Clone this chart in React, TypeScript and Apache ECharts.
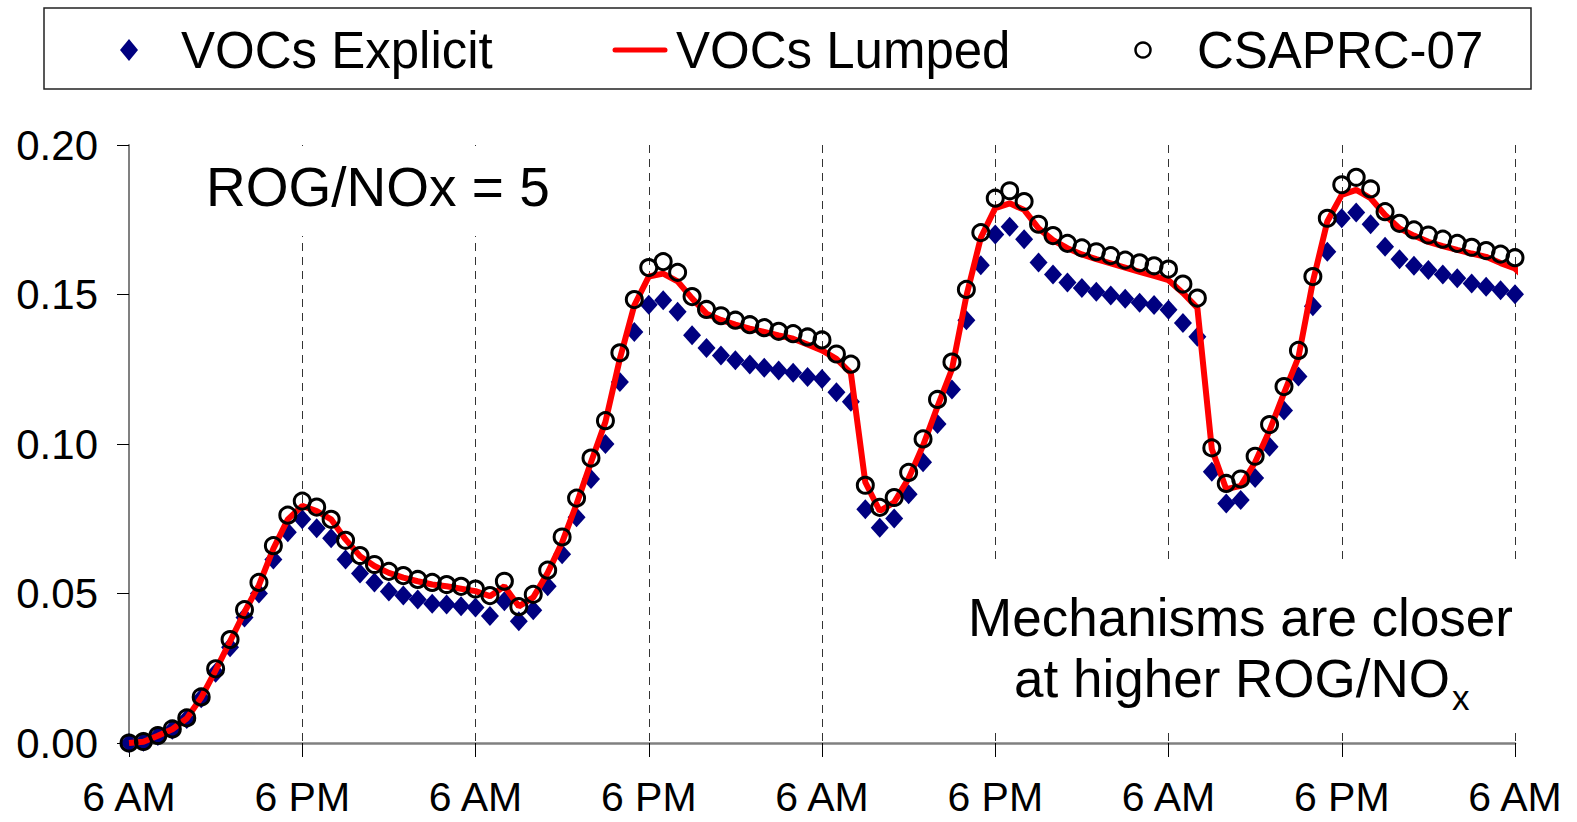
import React, { useEffect, useRef } from 'react';
import * as echarts from 'echarts';

// Hours after the 6 AM start (hourly output)
const explicitValues = [
  0.0, 0.0004, 0.0023, 0.0044, 0.008, 0.015, 0.0235, 0.032, 0.042, 0.05, 0.0614, 0.0705,
  0.0748, 0.0718, 0.0685, 0.0614, 0.0567, 0.0537, 0.0507, 0.0493, 0.048, 0.0466, 0.0463, 0.0457,
  0.0453, 0.0425, 0.0474, 0.0407, 0.0444, 0.0524, 0.0631, 0.0755, 0.0883, 0.1, 0.1207, 0.1375,
  0.1466, 0.1481, 0.1442, 0.1364, 0.1321, 0.1296, 0.128, 0.1266, 0.1255, 0.1246, 0.1238, 0.1224,
  0.1217, 0.1173, 0.1141, 0.0782, 0.072, 0.0751, 0.0832, 0.0939, 0.1067, 0.1182, 0.1414, 0.1598,
  0.1701, 0.1727, 0.1685, 0.1607, 0.1567, 0.154, 0.1522, 0.1509, 0.1497, 0.1486, 0.1472, 0.1465,
  0.1449, 0.1405, 0.1359, 0.0907, 0.0801, 0.0813, 0.0886, 0.0991, 0.1112, 0.1226, 0.1461, 0.1643,
  0.1755, 0.1774, 0.1735, 0.166, 0.1618, 0.1596, 0.1582, 0.1567, 0.1554, 0.1537, 0.1526, 0.1514,
  0.1501,
];

const lumpedValues = [
  0.0, 0.0004, 0.0024, 0.0046, 0.0082, 0.0152, 0.0243, 0.034, 0.0438, 0.0528, 0.065, 0.0748,
  0.0793, 0.0776, 0.0748, 0.0681, 0.0625, 0.0592, 0.0569, 0.0553, 0.0541, 0.053, 0.0524, 0.0516,
  0.0508, 0.0491, 0.0524, 0.0457, 0.0487, 0.0569, 0.0671, 0.0799, 0.0939, 0.1074, 0.1285, 0.1464,
  0.156, 0.157, 0.1544, 0.1487, 0.1436, 0.1415, 0.1399, 0.1386, 0.1375, 0.1363, 0.1352, 0.1333,
  0.1313, 0.1285, 0.1237, 0.0872, 0.0776, 0.0805, 0.0885, 0.0995, 0.1125, 0.125, 0.1495, 0.169,
  0.1789, 0.1805, 0.1783, 0.1721, 0.1682, 0.1655, 0.1634, 0.1618, 0.1604, 0.159, 0.1576, 0.1562,
  0.1548, 0.1505, 0.1455, 0.0983, 0.0849, 0.086, 0.0939, 0.1045, 0.117, 0.129, 0.1543, 0.1744,
  0.1833, 0.185, 0.1822, 0.1766, 0.1721, 0.1697, 0.1676, 0.1662, 0.1649, 0.1637, 0.1626, 0.1605,
  0.1587, 0.154,
];

const csaprcValues = [
  0.0, 0.0005, 0.0025, 0.0047, 0.0084, 0.0154, 0.0248, 0.0346, 0.0446, 0.0537, 0.066, 0.0762,
  0.0809, 0.0789, 0.0748, 0.0678, 0.0627, 0.0597, 0.0574, 0.056, 0.0547, 0.0537, 0.053, 0.0524,
  0.0515, 0.0493, 0.0541, 0.0456, 0.0497, 0.0578, 0.0689, 0.0819, 0.0953, 0.1078, 0.1305, 0.1483,
  0.159, 0.161, 0.1574, 0.1493, 0.145, 0.1429, 0.1414, 0.1399, 0.1389, 0.1377, 0.1369, 0.1358,
  0.1348, 0.1301, 0.1267, 0.0862, 0.0788, 0.0821, 0.0905, 0.1017, 0.1149, 0.1274, 0.1517, 0.1707,
  0.1822, 0.1847, 0.1811, 0.1735, 0.1697, 0.1671, 0.1656, 0.1643, 0.163, 0.1615, 0.1606, 0.1596,
  0.1585, 0.1535, 0.1488, 0.0987, 0.0868, 0.0883, 0.0959, 0.1065, 0.1192, 0.1313, 0.156, 0.1755,
  0.1867, 0.1892, 0.1853, 0.1777, 0.1738, 0.1716, 0.1699, 0.1685, 0.1671, 0.1658, 0.1647, 0.1635,
  0.1623,
];

const seriesNames = ['VOCs Explicit', 'VOCs Lumped', 'CSAPRC-07'];
const xTickLabels = ['6 AM', '6 PM'];
const yTicks = { min: 0, max: 0.2, step: 0.05 };
const annotationTop = 'ROG/NOx = 5';
const annotationBottom1 = 'Mechanisms are closer';
const annotationBottom2 = 'at higher ROG/NO';
const annotationSub = 'x';

const FONT = '"Liberation Sans", Arial, sans-serif';

const toPairs = (vals: number[]) => vals.map((v, h) => [h, v]);

export default function App() {
  const ref = useRef<HTMLDivElement>(null);

  useEffect(() => {
    if (!ref.current) return;
    const chart = echarts.init(ref.current, null, { renderer: 'svg' });

    const textEl = (text: string, x: number, y: number, size: number, align = 'left') => ({
      type: 'text',
      z: 110,
      style: {
        text,
        x,
        y,
        fontSize: size,
        fontFamily: FONT,
        fill: '#000',
        textAlign: align,
        textVerticalAlign: 'middle',
        verticalAlign: 'middle',
      },
    });

    const option: any = {
      animation: false,
      backgroundColor: '#ffffff',
      grid: { left: 129, right: 62, top: 145, bottom: 79, containLabel: false },
      xAxis: {
        type: 'value',
        min: 0,
        max: 96,
        interval: 12,
        axisLine: { show: true, onZero: false, lineStyle: { color: '#808080', width: 2.5 } },
        axisTick: { show: true, length: 14, lineStyle: { color: '#000', width: 1 } },
        axisLabel: {
          formatter: (v: number) => (v % 24 === 0 ? xTickLabels[0] : xTickLabels[1]),
          fontFamily: FONT,
          fontSize: 41,
          lineHeight: 34,
          color: '#000',
          margin: 37,
        },
        splitLine: { show: true, lineStyle: { color: '#333', type: [8, 6], width: 1 } },
      },
      yAxis: {
        type: 'value',
        min: yTicks.min,
        max: yTicks.max,
        interval: yTicks.step,
        axisLine: { show: true, lineStyle: { color: '#808080', width: 2 } },
        axisTick: { show: true, length: 12, lineStyle: { color: '#000', width: 1 } },
        axisLabel: {
          formatter: (v: number) => v.toFixed(2),
          fontFamily: FONT,
          fontSize: 42,
          color: '#000',
          margin: 31,
        },
        splitLine: { show: false },
      },
      series: [
        {
          name: seriesNames[0],
          type: 'scatter',
          z: 2,
          symbol: 'diamond',
          symbolSize: [18, 20],
          itemStyle: { color: '#000080', opacity: 1 },
          data: toPairs(explicitValues),
        },
        {
          name: seriesNames[1],
          type: 'line',
          z: 3,
          showSymbol: false,
          clip: false,
          lineStyle: { color: '#ff0000', width: 6 },
          itemStyle: { color: '#ff0000' },
          data: toPairs(lumpedValues),
        },
        {
          name: seriesNames[2],
          type: 'scatter',
          z: 4,
          symbol: 'circle',
          symbolSize: 16,
          itemStyle: { color: 'rgba(255,255,255,0)', borderColor: '#000000', borderWidth: 3, opacity: 1 },
          data: toPairs(csaprcValues),
        },
      ],
      graphic: [
        // legend box
        {
          type: 'rect',
          z: 100,
          shape: { x: 44, y: 8, width: 1487, height: 81 },
          style: { fill: '#fff', stroke: '#222', lineWidth: 1.5 },
        },
        {
          type: 'polygon',
          z: 110,
          shape: { points: [[129, 39], [138, 50], [129, 61], [120, 50]] },
          style: { fill: '#000080' },
        },
        textEl(seriesNames[0], 181, 50, 51),
        {
          type: 'line',
          z: 110,
          shape: { x1: 615, y1: 50, x2: 665, y2: 50 },
          style: { stroke: '#ff0000', lineWidth: 5, lineCap: 'round' },
        },
        textEl(seriesNames[1], 676, 50, 51),
        {
          type: 'circle',
          z: 110,
          shape: { cx: 1143, cy: 50, r: 7.5 },
          style: { fill: '#fff', stroke: '#000', lineWidth: 2.5 },
        },
        textEl(seriesNames[2], 1197, 50, 51),
        // annotation boxes (white backgrounds hide the dashed grid lines)
        {
          type: 'rect',
          z: 100,
          shape: { x: 185, y: 146, width: 385, height: 90 },
          style: { fill: '#fff' },
        },
        textEl(annotationTop, 206, 187, 55),
        {
          type: 'rect',
          z: 100,
          shape: { x: 945, y: 565, width: 580, height: 165 },
          style: { fill: '#fff' },
        },
        textEl(annotationBottom1, 1513, 617, 53, 'right'),
        textEl(annotationBottom2, 1450, 678, 53, 'right'),
        textEl(annotationSub, 1452, 697, 35),
      ],
    };

    chart.setOption(option);
    return () => chart.dispose();
  }, []);

  return (
    <div
      ref={ref}
      style={{ position: 'absolute', left: 0, top: 0, width: 1577, height: 822, background: '#fff' }}
    />
  );
}
